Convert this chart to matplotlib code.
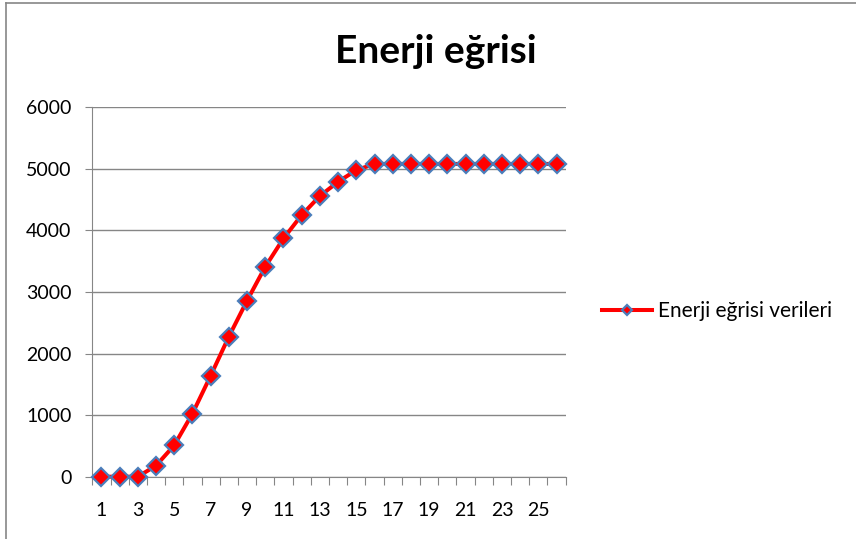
import matplotlib
matplotlib.use('Agg')
import matplotlib.pyplot as plt
from matplotlib.lines import Line2D

# Values
categories = list(range(1, 27))
energy = [0, 0, 0, 180, 510, 1025, 1640, 2275, 2860, 3410, 3870, 4250,
          4560, 4790, 4980, 5080, 5080, 5080, 5080, 5080, 5080, 5080,
          5080, 5080, 5080, 5080]
y_ticks = [0, 1000, 2000, 3000, 4000, 5000, 6000]
x_labels = [str(c) for c in categories if c % 2 == 1]

plt.rcParams['font.family'] = ['Lato', 'DejaVu Sans']
grey = '#868686'

fig = plt.figure(figsize=(8.56, 5.39), dpi=100)
ax = fig.add_axes([92.3 / 856, 1 - 476.7 / 539, 473.4 / 856, 369.4 / 539])

ax.plot(categories, energy, color='red', linewidth=2.9, marker='D',
        markersize=9.5, markerfacecolor='red', markeredgecolor='#4a7ebb',
        markeredgewidth=1.6, label='Enerji eğrisi verileri', zorder=3,
        clip_on=False)

ax.set_ylim(0, 6000)
ax.set_xlim(0.5, 26.5)
ax.set_yticks(y_ticks)
ax.set_yticklabels([str(v) for v in y_ticks])
ax.yaxis.grid(True, color=grey, linewidth=1)
ax.set_axisbelow(True)

# tick marks sit between categories, labels on every other category
ax.set_xticks([c - 0.5 for c in categories] + [26.5])
ax.set_xticklabels([])
ax.set_xticks([c for c in categories if c % 2 == 1], minor=True)
ax.set_xticklabels(x_labels, minor=True)
ax.tick_params(axis='x', which='major', length=6, color=grey, direction='out')
ax.tick_params(axis='x', which='minor', length=0, pad=18, labelsize=14)
ax.tick_params(axis='y', length=5, color=grey, pad=10, labelsize=14)

for s in ['top', 'right']:
    ax.spines[s].set_visible(False)
for s in ['left', 'bottom']:
    ax.spines[s].set_color(grey)

fig.text(436 / 856, 1 - 63 / 539, 'Enerji eğrisi', fontsize=28,
         fontweight='bold', ha='center', va='baseline')

fig.legend(loc='center left', bbox_to_anchor=(602 / 856, 1 - 311 / 539),
           frameon=False, fontsize=15, handlelength=2.4, markerscale=0.55,
           handletextpad=0.3, borderpad=0, borderaxespad=0)

# chart area border (top and left edges visible)
fig.add_artist(Line2D([6 / 856, 6 / 856], [0, 1 - 3 / 539],
                      color=grey, linewidth=1.2))
fig.add_artist(Line2D([6 / 856, 1], [1 - 3 / 539, 1 - 3 / 539],
                      color=grey, linewidth=1.2))

fig.savefig('out.png', dpi=100)
